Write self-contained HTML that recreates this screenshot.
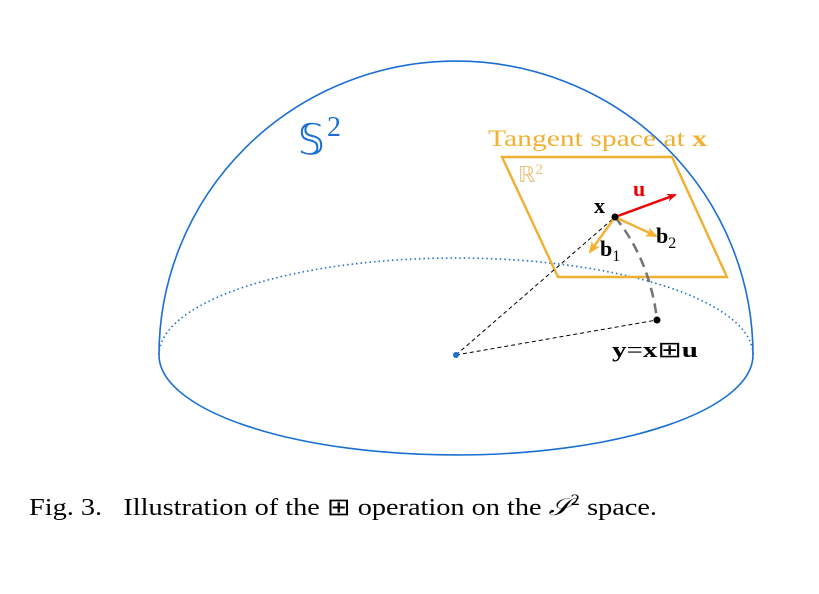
<!DOCTYPE html>
<html><head><style>body{margin:0;background:#fff}svg{display:block}</style></head><body>
<svg width="819" height="594" viewBox="0 0 819 594" xmlns="http://www.w3.org/2000/svg" font-family="Liberation Serif, serif">
<defs>
<marker id="ar" markerWidth="10" markerHeight="8" refX="8" refY="4" orient="auto" markerUnits="userSpaceOnUse"><path d="M0,0 L10,4 L0,8 L3,4 z" fill="#e00"/></marker>
<marker id="ao" markerWidth="12" markerHeight="10" refX="10" refY="5" orient="auto" markerUnits="userSpaceOnUse"><path d="M0,0 L12,5 L0,10 L3,5 z" fill="#f5b030"/></marker>
</defs>
<path d="M159,355 A297,294 0 0 1 753,355" fill="none" stroke="#1a6fd1" stroke-width="1.6"/>
<path d="M159,355 A297,100 0 0 0 753,355" fill="none" stroke="#1a6fd1" stroke-width="1.6"/>
<path d="M159,355 A297,97 0 0 1 753,355" fill="none" stroke="#1a6fd1" stroke-width="1.6" stroke-dasharray="1.5,3"/>
<text x="298" y="154" font-size="42" fill="#1a6fd1">𝕊</text><text x="327" y="136" font-size="28" fill="#1a6fd1">2</text>
<polygon points="502,157 672,157 727,277 558,277" fill="none" stroke="#f0b030" stroke-width="2.4"/>
<text x="488" y="146" font-size="23" fill="#f0b030" textLength="219" lengthAdjust="spacingAndGlyphs">Tangent space at <tspan font-weight="bold">x</tspan></text>
<text x="518" y="182" font-size="22" fill="#e8c080">ℝ<tspan font-size="15" dy="-8">2</tspan></text>
<line x1="456" y1="355" x2="615" y2="217" stroke="#000" stroke-dasharray="4,3"/>
<line x1="456" y1="355" x2="657" y2="320" stroke="#000" stroke-dasharray="4,3"/>
<path d="M615,217 Q650,260 657,320" fill="none" stroke="#777" stroke-width="2.6" stroke-dasharray="10,6"/>
<line x1="615" y1="217" x2="675" y2="195" stroke="#e00" stroke-width="2.4" marker-end="url(#ar)"/>
<line x1="615" y1="217" x2="590" y2="252" stroke="#f5b030" stroke-width="2.4" marker-end="url(#ao)"/>
<line x1="615" y1="217" x2="656" y2="236" stroke="#f5b030" stroke-width="2.4" marker-end="url(#ao)"/>
<circle cx="615" cy="217" r="3.5" fill="#000"/>
<circle cx="657" cy="320" r="3.5" fill="#000"/>
<circle cx="456" cy="355" r="3" fill="#1a6fd1"/>
<text x="594" y="213" font-size="22" font-weight="bold">x</text>
<text x="633" y="196" font-size="22" font-weight="bold" fill="#e00">u</text>
<text x="600" y="256" font-size="22" font-weight="bold">b<tspan font-size="16" font-weight="normal" dy="5">1</tspan></text>
<text x="656" y="243" font-size="22" font-weight="bold">b<tspan font-size="16" font-weight="normal" dy="5">2</tspan></text>
<text x="612" y="357" font-size="22" font-weight="bold" textLength="86" lengthAdjust="spacingAndGlyphs">y<tspan font-weight="normal">=</tspan>x<tspan font-weight="normal">⊞</tspan>u</text>
<text x="29" y="515" font-size="24" textLength="628" lengthAdjust="spacingAndGlyphs">Fig. 3.&#160;&#160; Illustration of the ⊞ operation on the <tspan font-style="italic">𝒮</tspan><tspan font-size="16" dy="-10">2</tspan><tspan dy="10"> space.</tspan></text>
</svg>
</body></html>
